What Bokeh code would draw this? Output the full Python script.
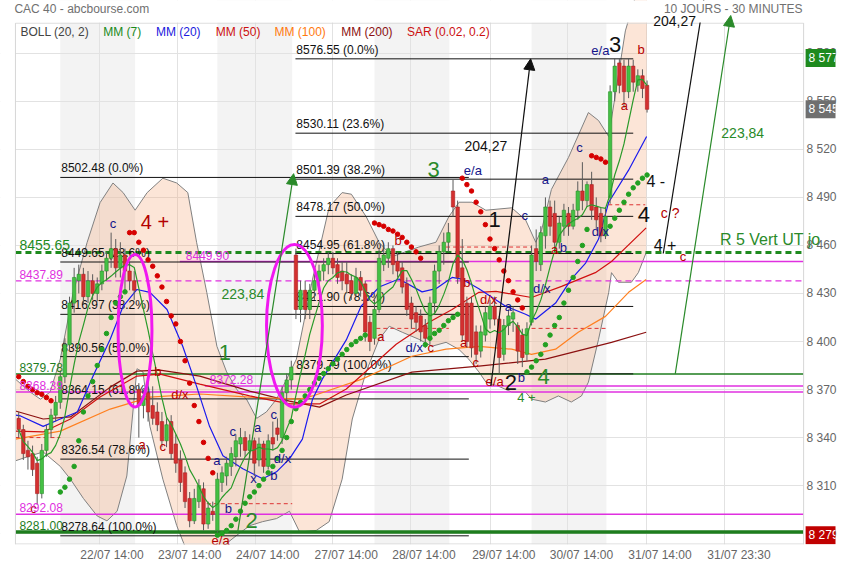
import pandas as pd
from bokeh.plotting import figure
from bokeh.models import (Range1d, FixedTicker, BoxAnnotation, Label, Arrow,
                          NormalHead, ColumnDataSource)
from bokeh.core.properties import value
from bokeh.embed import file_html
from bokeh.resources import INLINE

FONT = "Liberation Sans"

# ---------------- data (30-minute bars; 17 bars per session, bar 17*d = day d 09:00) ----------------
bar_index = list(range(8, 145))
opens = [8352, 8345, 8332, 8330, 8324, 8305, 8332, 8345, 8354, 8362,
         8378, 8398, 8424, 8438, 8442, 8428, 8438, 8430, 8436, 8444,
         8452, 8458, 8446, 8454, 8444, 8438, 8370, 8360, 8368, 8360,
         8356, 8350, 8338, 8350, 8336, 8326, 8318, 8302, 8288, 8300,
         8308, 8286, 8294, 8282, 8312, 8316, 8322, 8328, 8336, 8340,
         8332, 8338, 8326, 8336, 8322, 8340, 8346, 8340, 8368, 8376,
         8454, 8420, 8432, 8420, 8432, 8438, 8444, 8448, 8452, 8448,
         8444, 8442, 8438, 8430, 8440, 8436, 8412, 8402, 8420, 8448,
         8452, 8458, 8450, 8446, 8436, 8424, 8418, 8416, 8410, 8402,
         8424, 8444, 8456, 8462, 8494, 8484, 8446, 8424, 8424, 8406,
         8394, 8404, 8414, 8422, 8414, 8392, 8410, 8414, 8410, 8404,
         8392, 8412, 8458, 8448, 8466, 8484, 8480, 8462, 8472, 8480,
         8472, 8482, 8494, 8488, 8498, 8484, 8480, 8466, 8490, 8556,
         8574, 8572, 8556, 8572, 8560, 8566, 8560]
highs = [8356, 8348, 8338, 8335, 8328, 8336, 8348, 8358, 8366, 8382,
         8402, 8428, 8446, 8448, 8446, 8444, 8442, 8440, 8448, 8456,
         8468, 8464, 8462, 8458, 8450, 8444, 8374, 8370, 8376, 8372,
         8362, 8356, 8352, 8354, 8342, 8332, 8322, 8306, 8308, 8314,
         8312, 8300, 8300, 8318, 8322, 8328, 8334, 8342, 8346, 8344,
         8342, 8340, 8340, 8338, 8342, 8350, 8352, 8372, 8380, 8388,
         8458, 8438, 8438, 8436, 8442, 8448, 8452, 8456, 8456, 8452,
         8450, 8450, 8442, 8446, 8444, 8438, 8416, 8426, 8458, 8460,
         8462, 8460, 8456, 8450, 8440, 8428, 8422, 8420, 8414, 8428,
         8448, 8460, 8468, 8474, 8501, 8488, 8464, 8428, 8428, 8410,
         8410, 8422, 8426, 8428, 8416, 8414, 8420, 8422, 8412, 8408,
         8412, 8460, 8470, 8472, 8490, 8488, 8488, 8478, 8486, 8484,
         8486, 8500, 8512, 8500, 8506, 8490, 8484, 8484, 8560, 8577,
         8577, 8576, 8577, 8576, 8570, 8570, 8563]
lows = [8340, 8326, 8320, 8316, 8298, 8302, 8328, 8340, 8350, 8358,
        8374, 8394, 8418, 8430, 8424, 8424, 8426, 8425, 8432, 8438,
        8446, 8440, 8440, 8432, 8432, 8426, 8340, 8352, 8350, 8348,
        8344, 8334, 8334, 8326, 8318, 8306, 8296, 8284, 8286, 8296,
        8282, 8283, 8288, 8279, 8306, 8310, 8316, 8322, 8328, 8328,
        8326, 8316, 8322, 8318, 8320, 8332, 8338, 8336, 8362, 8370,
        8414, 8412, 8414, 8414, 8426, 8432, 8438, 8442, 8442, 8436,
        8432, 8430, 8426, 8428, 8428, 8400, 8394, 8398, 8418, 8444,
        8446, 8442, 8440, 8430, 8416, 8408, 8406, 8400, 8396, 8398,
        8418, 8436, 8448, 8456, 8478, 8436, 8400, 8396, 8390, 8386,
        8390, 8400, 8408, 8410, 8380, 8388, 8404, 8406, 8386, 8384,
        8388, 8410, 8444, 8444, 8458, 8466, 8456, 8458, 8466, 8466,
        8470, 8476, 8482, 8484, 8476, 8470, 8462, 8464, 8486, 8550,
        8555, 8546, 8552, 8556, 8556, 8552, 8543]
closes = [8345, 8330, 8328, 8320, 8305, 8332, 8345, 8354, 8362, 8378,
          8398, 8424, 8440, 8442, 8428, 8438, 8430, 8436, 8444, 8452,
          8458, 8446, 8454, 8444, 8438, 8432, 8360, 8366, 8356, 8352,
          8348, 8338, 8348, 8330, 8324, 8312, 8300, 8288, 8302, 8310,
          8286, 8296, 8292, 8314, 8318, 8324, 8330, 8338, 8340, 8332,
          8338, 8324, 8336, 8322, 8338, 8336, 8342, 8368, 8376, 8384,
          8420, 8432, 8420, 8432, 8438, 8444, 8448, 8452, 8446, 8440,
          8438, 8436, 8430, 8440, 8432, 8406, 8400, 8420, 8452, 8454,
          8458, 8448, 8444, 8434, 8420, 8414, 8412, 8406, 8402, 8424,
          8444, 8456, 8462, 8468, 8484, 8440, 8404, 8400, 8396, 8392,
          8406, 8418, 8422, 8414, 8390, 8410, 8416, 8418, 8394, 8390,
          8408, 8454, 8450, 8468, 8484, 8472, 8462, 8474, 8482, 8472,
          8482, 8494, 8488, 8498, 8482, 8476, 8466, 8478, 8556, 8572,
          8560, 8556, 8572, 8562, 8566, 8558, 8545]

# Bollinger (20,2) envelope
boll_up_x = [7.3, 10.5, 12.7, 14.8, 17.0, 19.8, 22.8, 25.6, 28.4, 30.6,
             33.2, 35.8, 39.2, 42.2, 44.6, 46.5, 48.7, 50.9, 53.0, 55.2,
             57.3, 59.5, 61.6, 63.8, 66.0, 68.1, 71.6, 75.2, 78.0, 80.0,
             83.2, 86.0, 88.8, 94.6, 98.3, 101.1, 103.3, 106.1, 109.1, 114.7,
             117.7, 119.9, 121.2, 123.3, 127.0, 131.3, 133.5, 135.7, 139.3, 144.0]
boll_up_y = [8376.5, 8368.4, 8364, 8368.4, 8389, 8430.7, 8461.8, 8486.7, 8499, 8493,
             8482, 8493, 8502, 8499, 8493, 8462, 8430.7, 8397, 8381, 8370,
             8364, 8352, 8356, 8364, 8376.5, 8389, 8439, 8484, 8493, 8492,
             8478, 8462, 8453, 8459, 8462, 8478, 8487, 8487, 8482, 8483.5,
             8476, 8462, 8470, 8495, 8515, 8543, 8538, 8528, 8594, 8640]
boll_lo_x = [7.3, 10.5, 13.3, 17.0, 19.2, 22.0, 25.0, 27.1, 29.3, 31.4,
             33.6, 34.9, 36.4, 39.2, 42.2, 44.4, 47.2, 50.9, 55.2, 58.0,
             60.8, 63.8, 66.6, 68.8, 72.4, 75.2, 78.0, 80.2, 83.2, 86.0,
             88.2, 91.0, 94.6, 97.4, 100.5, 103.3, 105.4, 107.6, 109.1, 111.9,
             114.7, 117.7, 119.0, 122.0, 124.8, 127.6, 129.8, 131.3, 133.5, 135.7,
             136.3, 137.8, 140.6, 142.1, 143.8]
boll_lo_y = [8325.5, 8328.6, 8331, 8322, 8314, 8302, 8291, 8288, 8294, 8316,
             8383, 8381, 8347, 8314, 8285, 8269, 8246, 8269, 8279, 8285,
             8287.5, 8289.4, 8294, 8281, 8282, 8287.5, 8314, 8351.6, 8381, 8401.4,
             8409.5, 8405.8, 8401.4, 8397, 8399.5, 8395, 8389, 8381, 8374.7, 8372,
             8368.4, 8368.4, 8364, 8362.2, 8366, 8362.2, 8366, 8374.6, 8401.4, 8430.7,
             8443, 8437, 8437, 8443, 8455.5]

mm20_x = [7.3, 8.4, 13.3, 17.0, 20.7, 24.1, 27.8, 30.6, 33.6, 36.4,
          40.1, 43.5, 46.5, 49.3, 52.2, 56.5, 60.8, 63.8, 66.6, 69.4,
          71.6, 73.7, 78.9, 82.1, 86.0, 90.3, 95.3, 98.3, 101.8, 103.9,
          107.6, 113.4, 117.7, 119.9, 124.2, 127.6, 130.7, 133.5, 135.7, 140.0, 143.9]
mm20_y = [8354, 8353.5, 8347, 8351.6, 8356, 8378.4, 8401.4, 8422, 8432.5, 8430.7,
          8420, 8397, 8372, 8347, 8328.6, 8320.5, 8314.3, 8318.6, 8326.7, 8339,
          8364, 8376.5, 8401, 8422, 8434, 8439, 8431, 8433, 8440, 8439,
          8433, 8422, 8417, 8414, 8424, 8439, 8449, 8464, 8487, 8507, 8528]
mm50_x = [7.3, 13.3, 19.2, 25.6, 33.6, 38.6, 47.2, 58.0, 66.6, 73.1, 78.9,
          89.7, 96.8, 101.8, 107.6, 111.3, 119.0, 125.5, 132.8, 136.3, 143.8]
mm50_y = [8344, 8343.5, 8351.6, 8365.3, 8378.4, 8379.6, 8373.4, 8366, 8361, 8361, 8370.3,
          8398.3, 8412, 8420, 8430.7, 8431.3, 8427.5, 8434.4, 8443, 8450, 8471]
mm100_x = [7.3, 17.0, 27.8, 36.4, 47.2, 58.0, 68.8, 71.6, 82.3, 93.1,
           100.5, 107.6, 114.7, 119.0, 124.2, 129.1, 135.0, 140.0, 143.8]
mm100_y = [8339, 8344, 8357.8, 8365.3, 8367.2, 8365.3, 8364, 8366, 8376.5, 8390.8,
           8395.2, 8397, 8395.2, 8392, 8395.2, 8405.8, 8415.7, 8430.7, 8438.7]
mm200_x = [7.3, 13.3, 19.2, 27.8, 33.6, 38.6, 47.2, 58.0, 66.6, 73.1, 78.9,
           93.1, 107.6, 122.0, 136.3, 143.8]
mm200_y = [8356.6, 8351.6, 8352.9, 8371.5, 8381.5, 8382.1, 8378.4, 8369, 8362.8, 8359, 8366.6,
           8380.9, 8384.6, 8389, 8399.5, 8405.8]

sar_up_x = (list(range(17, 32)) + list(range(51, 84)) + list(range(96, 104))
            + list(range(118, 132)) + list(range(136, 145)))
sar_up_y = [8306, 8309, 8314, 8322, 8338, 8356, 8366, 8375, 8385, 8395, 8405, 8415, 8424, 8428, 8431,
            8279, 8280, 8282, 8285, 8289, 8294, 8299, 8303, 8306, 8310, 8314, 8318, 8322, 8327, 8332,
            8340, 8350, 8358, 8362, 8366, 8370, 8374, 8377, 8380, 8383, 8386, 8389, 8392, 8395, 8398,
            8400, 8402, 8404,
            8398, 8402, 8405, 8407, 8410, 8413, 8415, 8417,
            8381, 8384, 8388, 8392, 8398, 8404, 8410, 8415, 8424, 8432, 8440, 8450, 8460, 8470,
            8472, 8477, 8482, 8487, 8492, 8496, 8499, 8502, 8504]
sar_dn_x = (list(range(8, 16)) + list(range(32, 51)) + list(range(85, 96))
            + list(range(104, 118)) + list(range(132, 136)))
sar_dn_y = [8378, 8375, 8372, 8370, 8368, 8367, 8365, 8363,
            8468, 8468, 8462, 8457, 8451, 8447, 8441, 8434, 8425, 8416, 8411, 8400, 8388, 8374,
            8360, 8350, 8337, 8327, 8318,
            8474, 8473, 8472, 8470, 8469, 8467, 8465, 8462, 8459, 8456, 8452,
            8502, 8498, 8494, 8487, 8481, 8473, 8464, 8458, 8451, 8444, 8438, 8431, 8426, 8421,
            8516, 8515, 8514, 8512]

fib_pcts = ["0.0%", "23.6%", "38.2%", "50.0%", "61.8%", "78.6%", "100.0%"]
fib1_levels = [8502.48, 8449.65, 8416.97, 8390.56, 8364.15, 8326.54, 8278.64]
fib2_levels = [8576.55, 8530.11, 8501.39, 8478.17, 8454.95, 8421.90, 8379.79]

level_vals = [8455.65, 8449.90, 8437.89, 8379.78, 8372.28, 8368.39, 8292.08, 8281.00]

arrow_from = [8372.28, 8454.95, 8281.00, 8379.78]
arrow_len = [204.27, 204.27, 223.84, 223.84]

y_ticks = [8280, 8310, 8340, 8370, 8400, 8430, 8460, 8490, 8520, 8550, 8580]
x_label_pos = [28.2, 45.0, 61.9, 78.9, 95.7, 113.0, 129.8, 146.8, 163.9]
x_labels = ["22/07 14:00", "23/07 14:00", "24/07 14:00", "27/07 14:00", "28/07 14:00",
            "29/07 14:00", "30/07 14:00", "31/07 14:00", "31/07 23:30"]
x_grid_pos = [25.4, 42.3, 59.3, 76.0, 92.9, 110.1, 126.8, 143.8, 160.8]
shaded_days = [1, 3, 5, 7]

last_price = 8545
high_price = 8577
low_price = 8279


# ---------------- layout helpers: reference pixel -> data coordinate ----------------
def X(px):
    return 17 + (px - 60) / 4.637


def Y(py):
    return 8580 - (py - 53) / 1.607


W, H = 839, 564
BB = 18
FR = 838                      # right edge of the plotting frame (px)
XL, XR = X(15), X(806)        # visible chart box
YT = Y(22.7)

p = figure(width=W, height=H, x_range=Range1d(X(0), X(FR)), y_range=Range1d(Y(H - BB), Y(0)),
           output_backend="svg", toolbar_location=None, y_axis_location="right",
           min_border_left=0, min_border_right=0, min_border_top=0, min_border_bottom=BB)
Y0 = Y(H - BB)
p.outline_line_color = None
p.background_fill_color = "white"
p.border_fill_color = "white"

for ax in (p.xaxis[0], p.yaxis[0]):
    ax.axis_line_color = None
    ax.major_tick_line_color = None
    ax.minor_tick_line_color = None
    ax.major_tick_out = 0
    ax.major_tick_in = 0
    ax.major_label_text_font = FONT
    ax.major_label_text_font_size = "12px"
    ax.major_label_text_color = "#666666"
p.yaxis.ticker = FixedTicker(ticks=y_ticks)
p.yaxis.major_label_overrides = {t: f"{t:,}".replace(",", " ") for t in y_ticks}
p.yaxis.major_label_standoff = -29
p.xaxis.ticker = FixedTicker(ticks=x_label_pos)
p.xaxis.major_label_overrides = dict(zip(x_label_pos, x_labels))
p.xaxis.major_label_standoff = 3
p.xgrid.ticker = FixedTicker(ticks=x_grid_pos)
p.ygrid.ticker = FixedTicker(ticks=y_ticks)
p.xgrid.grid_line_color = "#e2e2e2"
p.ygrid.grid_line_color = "#e2e2e2"

for d in shaded_days:
    p.add_layout(BoxAnnotation(left=17 * d, right=17 * d + 16.2, fill_color="#f3f3f3",
                               fill_alpha=1.0, line_alpha=0, level="image"))
# white margins around the chart box (under the data, over grid lines)
p.add_layout(BoxAnnotation(right=XL, fill_color="white", fill_alpha=1, line_alpha=0, level="underlay"))
p.add_layout(BoxAnnotation(left=XR, fill_color="white", fill_alpha=1, line_alpha=0, level="underlay"))

# Bollinger envelope
p.patch(boll_up_x + boll_lo_x[::-1], boll_up_y + boll_lo_y[::-1],
        fill_color="#f4a070", fill_alpha=0.28, line_color=None)
p.line(boll_up_x, boll_up_y, line_color="#808080", line_width=1)
p.line(boll_lo_x, boll_lo_y, line_color="#808080", line_width=1)

GREEN_L = "#1e7d1e"
MAG = "#e030e0"
level_style = {
    8455.65: dict(color="#1e8a1e", width=3, dash="6 4", x0=XL, lx=X(19), fs="14px"),
    8449.90: dict(color=MAG, width=1.5, dash="solid", x0=X(180), lx=X(186), fs="12px"),
    8437.89: dict(color=MAG, width=1.2, dash="6 4", x0=XL, lx=X(19), fs="12px"),
    8379.78: dict(color=GREEN_L, width=1.5, dash="solid", x0=XL, lx=X(19), fs="12px"),
    8372.28: dict(color=MAG, width=1.5, dash="solid", x0=X(205), lx=X(210), fs="12px"),
    8368.39: dict(color=MAG, width=1.5, dash="solid", x0=XL, lx=X(19), fs="12px"),
    8292.08: dict(color=MAG, width=1.5, dash="solid", x0=XL, lx=X(19), fs="12px"),
    8281.00: dict(color=GREEN_L, width=3.5, dash="solid", x0=XL, lx=X(19), fs="12px"),
}
for v in level_vals:
    s = level_style[v]
    p.segment(x0=[s["x0"]], y0=[v], x1=[XR], y1=[v], line_color=s["color"],
              line_width=s["width"], line_dash=s["dash"])

# short dashed red markers
red_dash = [(100.5, 119.0, 8459.0), (135.6, 143.6, 8485.4), (85.4, 101.1, 8408.2),
            (119.0, 135.2, 8408.2), (48.7, 67.2, 8298.7), (7.3, 17.0, 8340.0)]
p.segment(x0=[r[0] for r in red_dash], y0=[r[2] for r in red_dash],
          x1=[r[1] for r in red_dash], y1=[r[2] for r in red_dash],
          line_color="#dd3333", line_width=1, line_dash="4 3")

# Fibonacci retracements
for levels, xa, xb in ((fib1_levels, X(60), X(470)), (fib2_levels, X(296), X(635))):
    n = len(levels)
    p.segment(x0=[xa] * n, y0=levels, x1=[xb] * n, y1=levels, line_color="#111111", line_width=1)
    p.text(x=[xa + 0.2] * n, y=levels,
           text=[f"{lv:.2f}  ({pc})" for lv, pc in zip(levels, fib_pcts)],
           text_font=value(FONT), text_font_size="12px", text_color="#111111",
           text_align="left", text_baseline="bottom", y_offset=-2)

# moving averages
mm7 = pd.Series(closes).rolling(7, min_periods=1).mean().tolist()
p.line(mm200_x, mm200_y, line_color="#8b1010", line_width=1.2)
p.line(mm100_x, mm100_y, line_color="#ff8020", line_width=1.2)
p.line(mm50_x, mm50_y, line_color="#d01010", line_width=1.2)
p.line(mm20_x, mm20_y, line_color="#1a1aee", line_width=1.2)

# candles
up = [c >= o for o, c in zip(opens, closes)]
src = ColumnDataSource(dict(
    x=bar_index, h=highs, l=lows,
    top=[max(o, c) for o, c in zip(opens, closes)],
    bot=[min(o, c) for o, c in zip(opens, closes)],
    fill=["#44c044" if u else "#d43030" for u in up],
    edge=["#2a8f2a" if u else "#a82020" for u in up]))
p.segment(x0="x", y0="h", x1="x", y1="l", source=src, line_color="#5a5a5a", line_width=1)
p.vbar(x="x", width=0.74, top="top", bottom="bot", source=src,
       fill_color="fill", line_color="edge", line_width=0.6)
p.line(bar_index, mm7, line_color="#2a9a2a", line_width=1.2)

# SAR
p.scatter(sar_up_x, sar_up_y, size=4.5, color="#22a022")
p.scatter(sar_dn_x, sar_dn_y, size=4.5, color="#d60000")

# ellipses
p.ellipse(x=[X(135), X(295)], y=[Y(331.5), Y(326.5)], width=[34 / 4.637, 56 / 4.637],
          height=[153 / 1.607, 163 / 1.607], fill_color=None, line_color="#f018f0", line_width=3)

# chart box border
p.segment(x0=[XL, XL, XR, XL], y0=[YT, Y0, Y0, Y0 + 0.5 / 1.607],
          x1=[XR, XL, XR, XR], y1=[YT, YT, YT, Y0 + 0.5 / 1.607],
          line_color="#d6d6d6", line_width=1)

NAVY = "#14148a"
DRED = "#b40000"
GT = "#2a8a2a"
BK = "#111111"
ew = [("c", 28.4, 8473.6, NAVY, "13px"), ("4 +", 37.5, 8474.8, DRED, "20px"),
      ("a", 34.7, 8335.4, DRED, "13px"), ("b", 38.1, 8381.5, DRED, "13px"),
      ("d/x", 42.9, 8367.2, DRED, "13px"), ("c", 39.2, 8334.2, DRED, "13px"),
      ("1", 52.6, 8393.3, GT, "22px"), ("a", 50.9, 8325.5, NAVY, "13px"),
      ("c", 54.3, 8343.5, NAVY, "13px"), ("a", 59.7, 8346.0, NAVY, "13px"),
      ("c", 63.2, 8354.7, NAVY, "13px"), ("x", 58.8, 8314.3, NAVY, "13px"),
      ("b", 63.2, 8316.2, NAVY, "13px"), ("d/x", 65.1, 8326.7, NAVY, "13px"),
      ("b", 53.4, 8295.6, NAVY, "13px"), ("2", 58.4, 8288.2, GT, "22px"),
      ("e/a", 51.7, 8275.7, DRED, "13px"), ("3", 97.8, 8507.5, GT, "22px"),
      ("e/a", 106.3, 8506.6, NAVY, "13px"), ("1", 111.0, 8476.4, BK, "22px"),
      ("c", 117.5, 8478.6, NAVY, "13px"), ("a", 122.0, 8501.0, NAVY, "13px"),
      ("c", 129.4, 8520.9, NAVY, "13px"), ("e/a", 133.9, 8581.9, NAVY, "13px"),
      ("3", 137.1, 8585.6, BK, "22px"), ("b", 142.7, 8582.5, DRED, "13px"),
      ("a", 139.1, 8547.6, DRED, "13px"), ("4 -", 145.9, 8499.7, BK, "16px"),
      ("4", 143.3, 8479.5, BK, "22px"), ("c ?", 149.0, 8480.4, DRED, "14px"),
      ("4 +", 147.9, 8460.0, BK, "16px"), ("c", 151.8, 8453.1, DRED, "13px"),
      ("a", 124.0, 8457.4, DRED, "13px"), ("b", 125.9, 8458.7, NAVY, "13px"),
      ("d/x", 133.9, 8468.6, NAVY, "13px"), ("d/x", 121.2, 8433.1, NAVY, "13px"),
      ("a", 114.0, 8422.0, NAVY, "13px"), ("d/x", 109.7, 8426.3, DRED, "13px"),
      ("b", 105.0, 8436.9, DRED, "13px"), ("a", 104.3, 8399.5, DRED, "13px"),
      ("c", 106.9, 8387.1, DRED, "13px"), ("e/a", 111.0, 8375.3, DRED, "13px"),
      ("2", 114.5, 8374.6, BK, "22px"), ("b", 116.8, 8377.8, NAVY, "13px"),
      ("4", 121.6, 8378.4, GT, "22px"), ("4 +", 117.9, 8365.3, GT, "13px"),
      ("a", 86.4, 8403.3, DRED, "13px"), ("d/x", 93.6, 8396.4, NAVY, "13px"),
      ("c", 97.2, 8396.4, DRED, "13px"), ("b", 90.1, 8463.0, DRED, "13px"),
      ("c", 11.2, 8295.6, DRED, "13px"),
      ("204,27", 109.1, 8522.1, BK, "14px"), ("223,84", 56.5, 8429.4, GT, "14px"),
      ("223,84", 164.7, 8530.2, GT, "14px")]
esrc = ColumnDataSource(dict(t=[e[0] for e in ew], x=[e[1] for e in ew], y=[e[2] for e in ew],
                             c=[e[3] for e in ew], fs=[e[4] for e in ew]))
p.text(x="x", y="y", text="t", text_color="c", text_font_size="fs", source=esrc,
       text_font=value(FONT), text_align="center", text_baseline="middle")

# level labels
for v in level_vals:
    s = level_style[v]
    p.text(x=[s["lx"]], y=[v], text=[f"{v:.2f}"], text_color=s["color"],
           text_font=value(FONT), text_font_size=s["fs"], text_align="left",
           text_baseline="bottom", y_offset=-2)

p.text(x=[X(722)], y=[Y(240)], text=["R 5 Vert UT jo"], text_color=GT,
       text_font=value(FONT), text_font_size="16px", text_align="left", text_baseline="middle")

# indicator legend row
leg_txt = ["BOLL (20, 2)", "MM (7)", "MM (20)", "MM (50)", "MM (100)", "MM (200)", "SAR (0.02, 0.2)"]
leg_col = ["#444444", "#1a8a1a", "#1a1add", "#cc1010", "#ff7a10", "#8b1010", "#cc1010"]
leg_px = [20, 103, 156, 216, 275, 342, 408]
p.text(x=[X(px) for px in leg_px], y=[Y(32)] * len(leg_txt), text=leg_txt,
       text_color=leg_col, text_font=value(FONT), text_font_size="12px",
       text_align="left", text_baseline="middle")

# blank strip above the chart box (covers data that runs past the top)
p.add_layout(BoxAnnotation(bottom=Y(22.2), fill_color="white", fill_alpha=1, line_alpha=0))

# arrows (measured moves)
arrow_specs = [(110.2, 118.8, "#111111", True), (147.5, 158.8, "#111111", False),
               (55.4, 67.5, "#2a8a2a", True), (150.1, 162.1, "#2a8a2a", True)]
for (xs, xe, col, head), y0, ln in zip(arrow_specs, arrow_from, arrow_len):
    if head:
        p.add_layout(Arrow(end=NormalHead(size=11, fill_color=col, line_color=col),
                           x_start=xs, y_start=y0, x_end=xe, y_end=y0 + ln,
                           line_color=col, line_width=1.2))
    else:
        p.segment(x0=[xs], y0=[y0], x1=[xe], y1=[y0 + ln], line_color=col, line_width=1.2)

# header texts
p.add_layout(Label(x=X(14), y=Y(2), text="CAC 40 - abcbourse.com", text_font=FONT,
                   text_font_size="12px", text_color="#707070", text_baseline="top"))
p.add_layout(Label(x=X(805), y=Y(2), text="10 JOURS - 30 MINUTES", text_font=FONT,
                   text_font_size="12px", text_color="#707070", text_baseline="top",
                   text_align="right"))
p.add_layout(Label(x=X(655), y=Y(26), text="204,27", text_font=FONT,
                   text_font_size="14px", text_color=BK, text_baseline="bottom"))

# price markers on the right
for val, bg in ((high_price, "#1e8a1e"), (last_price, "#6f6f6f"), (low_price, "#c00000")):
    lb = Label(x=X(808), y=val, text=f"{val:,}".replace(",", " "),
               text_font=FONT, text_font_size="12px", text_color="white",
               text_baseline="middle", text_align="left", background_fill_color=bg)
    try:
        lb.padding = (3, 2)
    except Exception:
        try:
            lb.padding = 2
        except Exception:
            pass
    p.add_layout(lb)

open("out.html", "w").write(file_html(p, INLINE))
